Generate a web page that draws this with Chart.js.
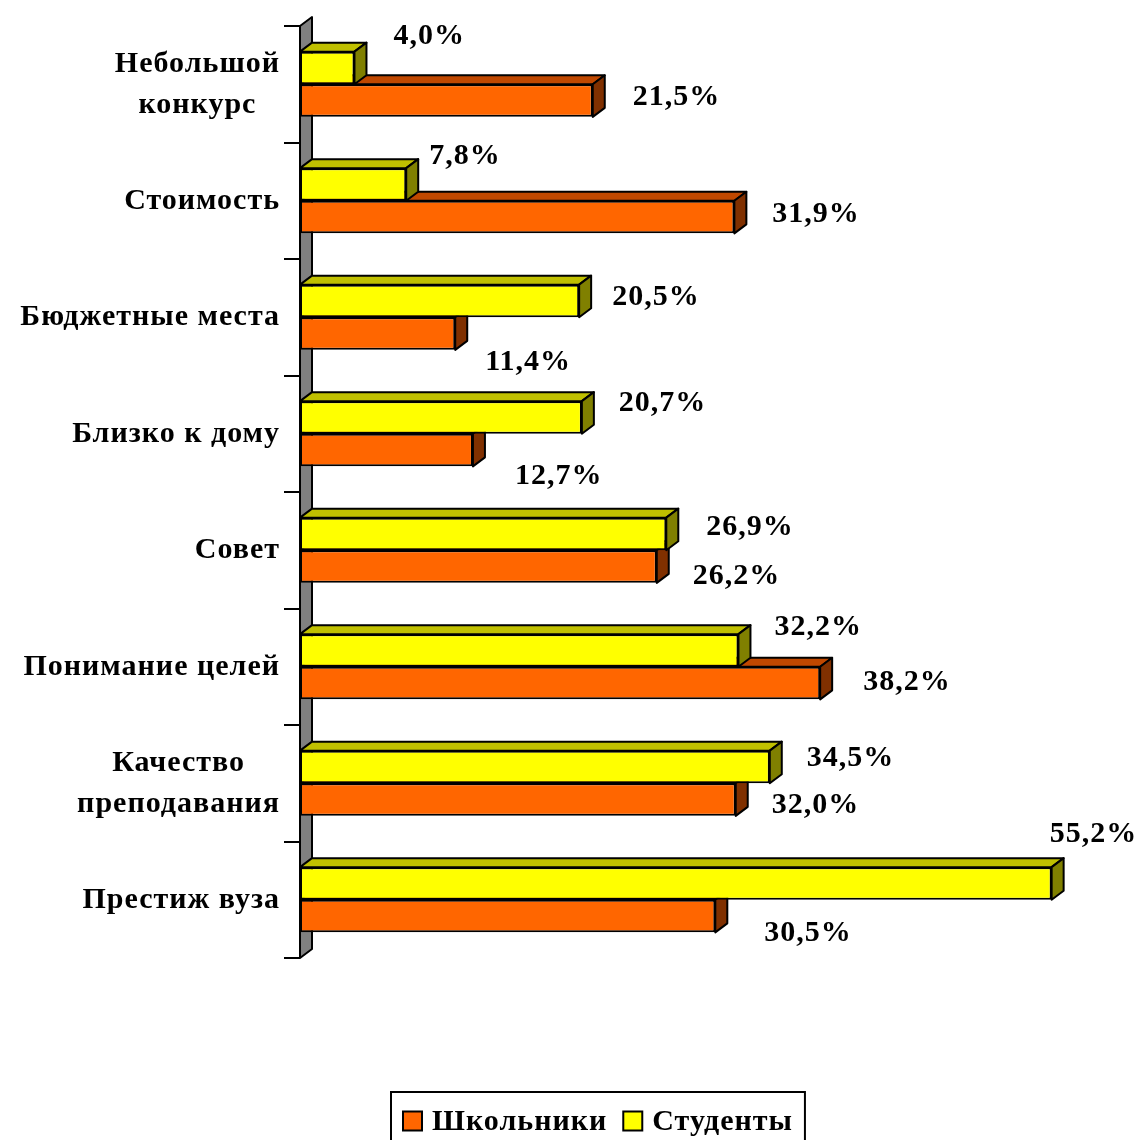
<!DOCTYPE html>
<html>
<head>
<meta charset="utf-8">
<script src="https://cdn.jsdelivr.net/npm/chart.js@4/dist/chart.umd.min.js"></script>
<style>
  body { margin: 0; background: #fff; }
  canvas { display: block; }
</style>
</head>
<body>
<canvas id="chart" width="1139" height="1140"></canvas>
<script>
// Categories top to bottom
const categories = [
  ['Небольшой', 'конкурс'],
  'Стоимость',
  'Бюджетные места',
  'Близко к дому',
  'Совет',
  'Понимание целей',
  ['Качество', 'преподавания'],
  'Престиж вуза'
];

// Values, %
const students = [4.0, 7.8, 20.5, 20.7, 26.9, 32.2, 34.5, 55.2];
const pupils = [21.5, 31.9, 11.4, 12.7, 26.2, 38.2, 32.0, 30.5];

const studentsName = 'Студенты';
const pupilsName = 'Школьники';

// Hand placed value labels in the original: [dx from bar end, dy from bar middle]
const studentsLabelNudge = [[39, -32], [23, -28], [33, -4], [37, -14], [40, -7], [36, -23], [37, -9], [-2, -49]];
const pupilsLabelNudge = [[40, -3], [38, -3], [30, 29], [42, 26], [36, 10], [43, -1], [36, 6], [49, 17]];

const FONT = '"Liberation Serif", "Times New Roman", serif';
const DEPTH_X = 12;
const DEPTH_Y = 9;

const faceColors = {
  '#FFFF00': { top: '#C0C000', side: '#808000' },
  '#FF6600': { top: '#C04800', side: '#803000' }
};

function fmt(v) {
  return v.toFixed(1).replace('.', ',') + '%';
}

function poly(ctx, pts, fill) {
  ctx.beginPath();
  ctx.moveTo(pts[0][0], pts[0][1]);
  for (let i = 1; i < pts.length; i++) ctx.lineTo(pts[i][0], pts[i][1]);
  ctx.closePath();
  ctx.fillStyle = fill;
  ctx.fill();
  ctx.stroke();
}

// Wall, tick marks, 3D faces of bars, labels, legend
const excel3d = {
  id: 'excel3d',
  beforeDatasetsDraw(chart) {
    const ctx = chart.ctx;
    const area = chart.chartArea;
    ctx.save();
    ctx.strokeStyle = '#000';
    ctx.lineWidth = 2;
    ctx.lineJoin = 'round';

    // grey wall
    poly(ctx, [
      [area.left, area.top],
      [area.left + DEPTH_X, area.top - DEPTH_Y],
      [area.left + DEPTH_X, area.bottom - DEPTH_Y],
      [area.left, area.bottom]
    ], '#808080');

    // tick marks at category boundaries
    const band = (area.bottom - area.top) / categories.length;
    ctx.beginPath();
    for (let k = 0; k <= categories.length; k++) {
      const y = Math.round(area.top + k * band);
      ctx.moveTo(area.left - 16, y);
      ctx.lineTo(area.left, y);
    }
    ctx.stroke();

    // 3D faces: lower (pupils) first, then upper (students)
    const order = [1, 0];
    order.forEach(di => {
      const ds = chart.data.datasets[di];
      const fc = faceColors[ds.backgroundColor];
      chart.getDatasetMeta(di).data.forEach(bar => {
        const top = bar.y - bar.height / 2;
        const bottom = bar.y + bar.height / 2;
        const x0 = bar.base;
        const x1 = bar.x;
        poly(ctx, [[x0, top], [x0 + DEPTH_X, top - DEPTH_Y], [x1 + DEPTH_X, top - DEPTH_Y], [x1, top]], fc.top);
        poly(ctx, [[x1, top], [x1 + DEPTH_X, top - DEPTH_Y], [x1 + DEPTH_X, bottom - DEPTH_Y], [x1, bottom]], fc.side);
      });
    });
    ctx.restore();
  },
  afterDraw(chart) {
    const ctx = chart.ctx;
    const area = chart.chartArea;
    const yScale = chart.scales.y;
    ctx.save();

    // category labels: lines centred on each other, block right aligned
    ctx.font = 'bold 30px ' + FONT;
    ctx.letterSpacing = '1px';
    ctx.fillStyle = '#000';
    ctx.textBaseline = 'middle';
    ctx.textAlign = 'center';
    categories.forEach((cat, i) => {
      const lines = Array.isArray(cat) ? cat : [cat];
      const w = Math.max(...lines.map(l => ctx.measureText(l).width));
      const cx = area.left - 20 - w / 2;
      const cy = yScale.getPixelForValue(i);
      const lh = 41;
      lines.forEach((l, j) => {
        ctx.fillText(l, cx, cy + (j - (lines.length - 1) / 2) * lh);
      });
    });

    // value labels
    ctx.font = 'bold 30px ' + FONT;
    ctx.textAlign = 'left';
    const nudges = [studentsLabelNudge, pupilsLabelNudge];
    chart.data.datasets.forEach((ds, di) => {
      chart.getDatasetMeta(di).data.forEach((bar, j) => {
        const n = nudges[di][j];
        ctx.fillText(fmt(ds.data[j]), bar.x + n[0], bar.y + n[1]);
      });
    });

    // legend, pupils first
    const items = [chart.data.datasets[1], chart.data.datasets[0]];
    const boxLeft = 391, boxTop = 1092, sw = 19;
    let x = boxLeft + 12;
    const cy = 1121;
    ctx.lineWidth = 2;
    ctx.strokeStyle = '#000';
    items.forEach((ds, i) => {
      ctx.fillStyle = ds.backgroundColor;
      ctx.fillRect(x, cy - sw / 2, sw, sw);
      ctx.strokeRect(x, cy - sw / 2, sw, sw);
      x += sw + 10;
      ctx.fillStyle = '#000';
      ctx.fillText(ds.label, x, cy + 1);
      x += ctx.measureText(ds.label).width + (i < items.length - 1 ? 16 : 12);
    });
    ctx.strokeRect(boxLeft, boxTop, x - boxLeft, 70);
    ctx.restore();
  }
};

new Chart(document.getElementById('chart'), {
  type: 'bar',
  data: {
    labels: categories,
    datasets: [
      {
        label: studentsName,
        data: students,
        backgroundColor: '#FFFF00',
        borderColor: '#000',
        borderWidth: 2,
        borderSkipped: false
      },
      {
        label: pupilsName,
        data: pupils,
        backgroundColor: '#FF6600',
        borderColor: '#000',
        borderWidth: 2,
        borderSkipped: false
      }
    ]
  },
  options: {
    indexAxis: 'y',
    responsive: false,
    animation: false,
    layout: { padding: { left: 300, right: 22, top: 26, bottom: 182 } },
    datasets: { bar: { categoryPercentage: 0.56, barPercentage: 1.0 } },
    scales: {
      x: { display: false, min: 0, max: 60 },
      y: { display: false }
    },
    plugins: {
      legend: { display: false },
      tooltip: { enabled: false }
    }
  },
  plugins: [excel3d]
});
</script>
</body>
</html>
